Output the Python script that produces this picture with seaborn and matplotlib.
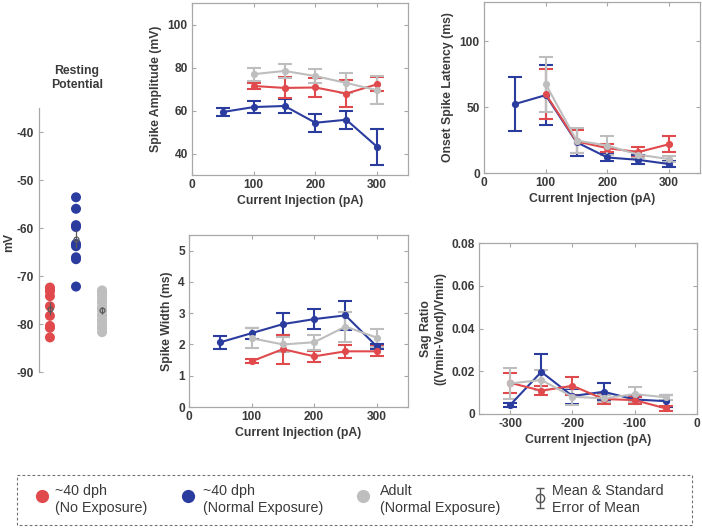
import numpy as np
import pandas as pd
import matplotlib
matplotlib.use("Agg")
import matplotlib.pyplot as plt
from matplotlib import font_manager
from matplotlib.patches import Rectangle
import seaborn as sns

sns.set_theme(style="white")
_names = {f.name for f in font_manager.fontManager.ttflist}
NARROW = "Liberation Sans Narrow" in _names
FAM = ["Liberation Sans Narrow", "Liberation Sans"] if NARROW else ["Liberation Sans", "DejaVu Sans"]
plt.rcParams["font.family"] = FAM
plt.rcParams["font.weight"] = "bold"
plt.rcParams["axes.unicode_minus"] = False

RED = "#E04A4D"
BLUE = "#2B3C9F"
GRAY = "#BEBEBE"
TXT = "#3A3A3A"
SPINE = "#A8A8A8"

# ---------------- data ----------------
groups = ["~40 dph (No Exposure)", "~40 dph (Normal Exposure)", "Adult (Normal Exposure)"]
colors = [RED, BLUE, GRAY]

rest_red = [-72.4, -72.7, -73.2, -74.2, -76.3, -78.3, -80.4, -80.8, -82.8]
rest_blue = [-53.6, -56.0, -59.4, -59.8, -63.3, -63.8, -66.1, -66.5, -72.2]
rest_gray = [-73.0, -73.3, -73.8, -74.1, -74.9, -75.2, -75.6, -76.5, -76.8,
             -77.3, -78.1, -78.4, -79.2, -79.5, -80.3, -80.6, -81.0, -81.7]

cur_blue = [50, 100, 150, 200, 250, 300]
cur_other = [100, 150, 200, 250, 300]

amp_blue = [59.3, 61.6, 62.1, 54.3, 55.7, 43.1]
amp_blue_se = [1.8, 2.8, 3.3, 4.3, 4.1, 8.5]
amp_red = [71.4, 70.5, 70.7, 67.9, 72.2]
amp_red_se = [1.5, 4.9, 4.2, 6.5, 3.3]
amp_gray = [76.9, 78.4, 76.0, 72.8, 69.4]
amp_gray_se = [3.0, 3.3, 3.3, 4.8, 6.5]

lat_blue = [52.4, 59.2, 23.4, 11.8, 10.0, 6.8]
lat_blue_se = [20.4, 23.0, 10.3, 3.0, 3.4, 2.0]
lat_red = [60.0, 24.0, 18.9, 15.9, 21.9]
lat_red_se = [19.0, 9.0, 3.3, 3.5, 6.3]
lat_gray = [67.5, 24.7, 20.9, 13.9, 10.6]
lat_gray_se = [20.8, 9.4, 7.2, 2.5, 2.3]

wid_blue = [2.07, 2.36, 2.65, 2.81, 2.93, 1.94]
wid_blue_se = [0.20, 0.17, 0.36, 0.32, 0.46, 0.07]
wid_red = [1.46, 1.85, 1.62, 1.78, 1.78]
wid_red_se = [0.06, 0.46, 0.18, 0.21, 0.16]
wid_gray = [2.20, 2.00, 2.07, 2.57, 2.22]
wid_gray_se = [0.32, 0.25, 0.24, 0.48, 0.29]

sag_cur = [-300, -250, -200, -150, -100, -50]
sag_blue = [0.0042, 0.0197, 0.0084, 0.0104, 0.0068, 0.0060]
sag_blue_se = [0.0010, 0.0083, 0.0035, 0.0039, 0.0014, 0.0029]
sag_red = [0.0146, 0.0109, 0.0132, 0.0070, 0.0065, 0.0026]
sag_red_se = [0.0048, 0.0020, 0.0043, 0.0025, 0.0016, 0.0010]
sag_gray = [0.0143, 0.0159, 0.0081, 0.0073, 0.0093, 0.0078]
sag_gray_se = [0.0073, 0.0047, 0.0039, 0.0016, 0.0035, 0.0012]

FS = 10 if NARROW else 8.8
TFS = 9.5 if NARROW else 8.6

W, H = 702, 528
fig = plt.figure(figsize=(W / 100, H / 100), dpi=100)


def px_axes(left, top, right, bottom, **kw):
    return fig.add_axes([left / W, 1 - bottom / H, (right - left) / W, (bottom - top) / H], **kw)


def style_box(ax):
    for s in ax.spines.values():
        s.set_visible(True)
        s.set_color(SPINE)
        s.set_linewidth(0.9)
    ax.tick_params(direction="in", length=3, width=0.8, color=SPINE, labelcolor=TXT,
                   labelsize=TFS, top=True, right=True, bottom=True, left=True, pad=3)
    for lab in ax.get_xticklabels() + ax.get_yticklabels():
        lab.set_fontweight("bold")


def panel(ax, series, xlim, ylim, xticks, yticks, ylabel):
    for xs, ys, se, c in series:
        ax.errorbar(xs, ys, yerr=se, fmt="none", ecolor=c, elinewidth=1.5,
                    capsize=5, capthick=1.5, zorder=2)
        sns.lineplot(x=xs, y=ys, ax=ax, color=c, marker="o", markersize=5.2,
                     markeredgewidth=0, linewidth=1.5, sort=False, errorbar=None, zorder=3)
    ax.set_xlim(*xlim)
    ax.set_ylim(*ylim)
    ax.set_xticks(xticks)
    ax.set_yticks(yticks)
    ax.set_xlabel("Current Injection (pA)", fontsize=FS, fontweight="bold", color=TXT, labelpad=3)
    ax.set_ylabel(ylabel, fontsize=FS, fontweight="bold", color=TXT, labelpad=4)
    style_box(ax)


# Spike amplitude
ax1 = px_axes(192, 3, 408, 175)
panel(ax1, [(cur_blue, amp_blue, amp_blue_se, BLUE),
            (cur_other, amp_red, amp_red_se, RED),
            (cur_other, amp_gray, amp_gray_se, GRAY)],
      (0, 350), (30, 110), [0, 100, 200, 300], [40, 60, 80, 100], "Spike Amplitude (mV)")

# Onset spike latency
ax2 = px_axes(484, 2, 700, 173)
panel(ax2, [(cur_blue, lat_blue, lat_blue_se, BLUE),
            (cur_other, lat_red, lat_red_se, RED),
            (cur_other, lat_gray, lat_gray_se, GRAY)],
      (0, 350), (0, 130), [0, 100, 200, 300], [0, 50, 100], "Onset Spike Latency (ms)")

# Spike width
ax3 = px_axes(189, 235, 408, 407)
panel(ax3, [(cur_blue, wid_blue, wid_blue_se, BLUE),
            (cur_other, wid_red, wid_red_se, RED),
            (cur_other, wid_gray, wid_gray_se, GRAY)],
      (0, 350), (0, 5.5), [0, 100, 200, 300], [0, 1, 2, 3, 4, 5], "Spike Width (ms)")

# Sag ratio
ax4 = px_axes(479, 243, 697, 414)
panel(ax4, [(sag_cur, sag_blue, sag_blue_se, BLUE),
            (sag_cur, sag_red, sag_red_se, RED),
            (sag_cur, sag_gray, sag_gray_se, GRAY)],
      (-350, 0), (0, 0.08), [-300, -200, -100, 0], [0, 0.02, 0.04, 0.06, 0.08],
      "Sag Ratio\n((Vmin-Vend)/Vmin)")
ax4.set_yticklabels(["0", "0.02", "0.04", "0.06", "0.08"])
for lab in ax4.get_yticklabels():
    lab.set_fontweight("bold")

# Resting potential
ax0 = px_axes(39, 108, 119, 372)
df_rest = pd.DataFrame({
    "group": [groups[0]] * len(rest_red) + [groups[1]] * len(rest_blue) + [groups[2]] * len(rest_gray),
    "mV": rest_red + rest_blue + rest_gray,
})
sns.stripplot(data=df_rest, x="group", y="mV", hue="group", order=groups, hue_order=groups,
              palette=colors, jitter=False, size=7.2, linewidth=0, legend=False, ax=ax0, zorder=2)
for i, vals in enumerate([rest_red, rest_blue, rest_gray]):
    v = np.array(vals)
    m = v.mean()
    se = v.std(ddof=1) / np.sqrt(len(v))
    ax0.errorbar([i], [m], yerr=[se], fmt="o", mfc="none", mec="#5A5A5A", ecolor="#5A5A5A",
                 ms=3.5, mew=0.9, elinewidth=0.9, capsize=0, zorder=4)
ax0.set_xlim(-0.42, 2.65)
ax0.set_ylim(-90, -35)
ax0.set_yticks([-90, -80, -70, -60, -50, -40])
ax0.set_xticks([])
ax0.set_xlabel("")
ax0.set_ylabel("")
for k in ["top", "right", "bottom"]:
    ax0.spines[k].set_visible(False)
ax0.spines["left"].set_color(SPINE)
ax0.spines["left"].set_linewidth(0.9)
ax0.tick_params(axis="y", direction="in", length=3, width=0.8, color=SPINE, labelcolor=TXT,
                labelsize=TFS, left=True, pad=4)
for lab in ax0.get_yticklabels():
    lab.set_fontweight("bold")
ax0.set_facecolor("none")
fig.text(9 / W, 1 - 243 / H, "mV", rotation=90, ha="center", va="center", fontsize=FS,
         fontweight="bold", color=TXT)
fig.text(77 / W, 1 - 78 / H, "Resting\nPotential", ha="center", va="center", fontsize=FS,
         fontweight="bold", color=TXT, linespacing=1.25)

# Legend box (pixel coordinates)
lax = fig.add_axes([0, 0, 1, 1], zorder=-5)
lax.set_xlim(0, W)
lax.set_ylim(H, 0)
lax.axis("off")
lax.add_patch(Rectangle((17, 475), 675, 50, fill=False, ec="#707070", lw=0.8, ls=(0, (2.5, 2))))
LFS = 10.3
LF = ["Liberation Sans", "DejaVu Sans"]
entries = [(42, 55, RED, "~40 dph", "(No Exposure)"),
           (188, 203, BLUE, "~40 dph", "(Normal Exposure)"),
           (363, 380, GRAY, "Adult", "(Normal Exposure)")]
for xd, xt, c, l1, l2 in entries:
    lax.plot([xd], [496], "o", color=c, ms=9.5, mew=0)
    lax.text(xt, 491, l1, fontsize=LFS, fontweight="normal", color=TXT, va="center", ha="left", family=LF)
    lax.text(xt, 508, l2, fontsize=LFS, fontweight="normal", color=TXT, va="center", ha="left", family=LF)
lax.errorbar([540], [498], yerr=[[10], [10]], fmt="o", mfc="none", mec="#555555", ecolor="#555555",
             ms=6, mew=1.0, elinewidth=1.0, capsize=3, capthick=1.0)
lax.text(552, 491, "Mean & Standard", fontsize=LFS, fontweight="normal", color=TXT, va="center",
         ha="left", family=LF)
lax.text(552, 508, "Error of Mean", fontsize=LFS, fontweight="normal", color=TXT, va="center",
         ha="left", family=LF)

fig.savefig("out.png", dpi=100, facecolor="white")
